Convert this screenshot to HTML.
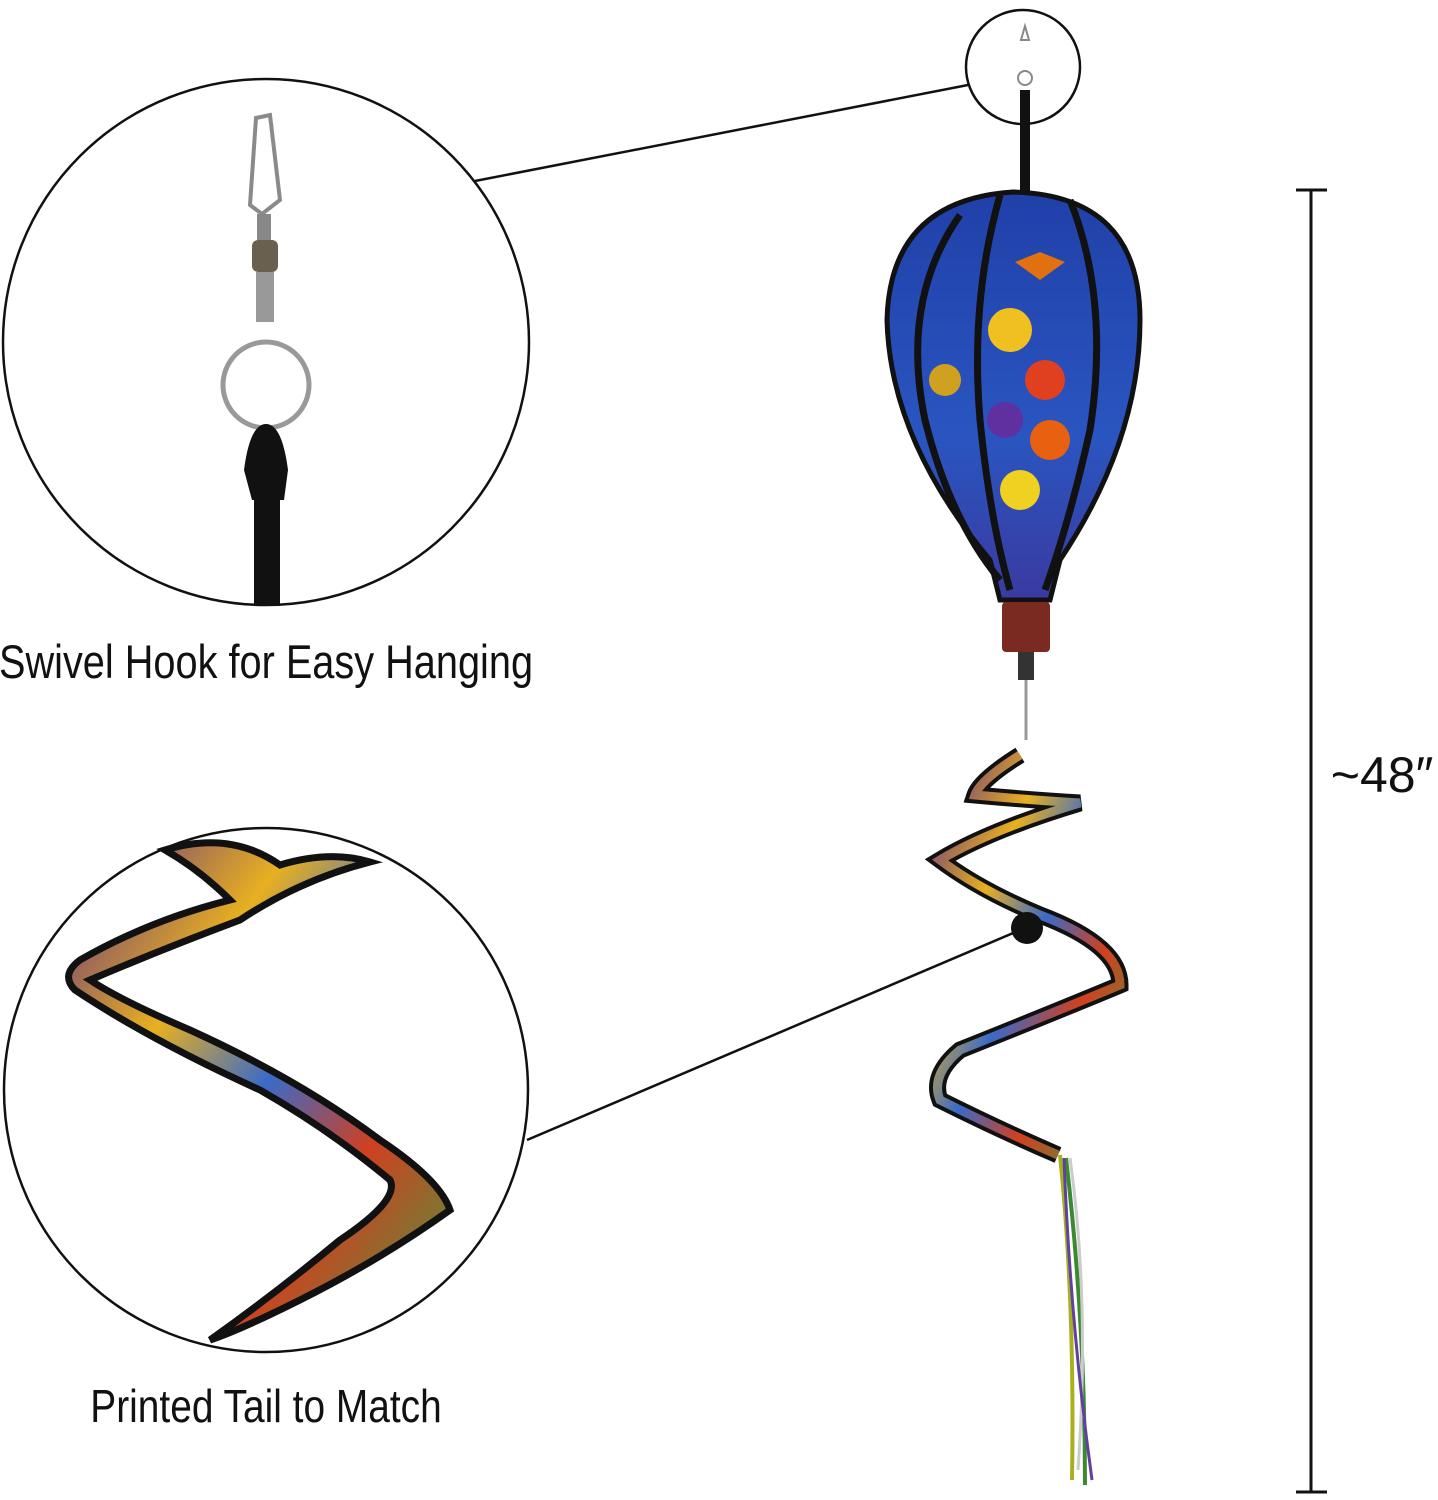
<!DOCTYPE html>
<html><head><meta charset="utf-8"><style>
html,body{margin:0;padding:0;background:#fff;}
svg{display:block;}
</style></head><body>
<svg width="1438" height="1500" viewBox="0 0 1438 1500" xmlns="http://www.w3.org/2000/svg">
<defs>
<linearGradient id="band" x1="0" y1="0" x2="1" y2="1">
<stop offset="0" stop-color="#5a2a8a"/><stop offset="0.3" stop-color="#e8b020"/><stop offset="0.5" stop-color="#3a6ac8"/><stop offset="0.7" stop-color="#d04020"/><stop offset="1" stop-color="#40a040"/>
</linearGradient>
<linearGradient id="blue" x1="0" y1="0" x2="0" y2="1">
<stop offset="0" stop-color="#2040a8"/><stop offset="0.6" stop-color="#2a55c0"/><stop offset="1" stop-color="#3a3aa0"/>
</linearGradient>
</defs>
<circle cx="266" cy="342" r="263" fill="#fff" stroke="#111" stroke-width="2.5"/>
<line x1="475" y1="181" x2="968" y2="85" stroke="#111" stroke-width="2.5"/>
<circle cx="1023" cy="67" r="57" fill="#fff" stroke="#111" stroke-width="2.5"/>
<path d="M256 118 L270 115 L280 200 L262 214 L250 205 Z" fill="none" stroke="#8a8a8a" stroke-width="4"/>
<rect x="257" y="214" width="14" height="26" fill="#888"/>
<rect x="252" y="240" width="26" height="32" rx="6" fill="#6a6050"/>
<rect x="256" y="272" width="18" height="50" fill="#999"/>
<circle cx="266" cy="385" r="43" fill="none" stroke="#999" stroke-width="5"/>
<path d="M244 470 Q250 424 266 424 Q282 424 288 470 L284 500 L252 500 Z" fill="#111"/>
<rect x="254" y="495" width="26" height="110" fill="#111"/>
<text transform="translate(266,678) scale(0.845,1)" text-anchor="middle" font-family="Liberation Sans, sans-serif" font-size="47" fill="#111">Swivel Hook for Easy Hanging</text>
<circle cx="266" cy="1090" r="262" fill="#fff" stroke="#111" stroke-width="2.5"/>
<path d="M165 850 Q230 830 280 865 Q330 850 370 862 Q300 880 240 920 Q160 950 90 980 Q120 1000 190 1030 Q300 1080 380 1140 Q440 1180 450 1210 Q380 1260 300 1300 Q240 1330 210 1340 Q280 1290 340 1240 Q400 1200 390 1180 Q330 1130 260 1090 Q150 1040 75 990 Q60 975 80 960 Q150 920 230 900 Q200 870 165 850 Z" fill="url(#band)" stroke="#111" stroke-width="7"/>
<line x1="527" y1="1140" x2="1025" y2="928" stroke="#111" stroke-width="2.5"/>
<text transform="translate(266,1422) scale(0.845,1)" text-anchor="middle" font-family="Liberation Sans, sans-serif" font-size="46" fill="#111">Printed Tail to Match</text>
<rect x="1020" y="90" width="10" height="108" fill="#111"/>
<path d="M1021 40 l4 -14 l4 14 z" fill="none" stroke="#888" stroke-width="2"/>
<circle cx="1025" cy="78" r="7" fill="none" stroke="#888" stroke-width="2"/>
<path d="M1013 192 Q1140 195 1140 320 Q1140 440 1060 560 L1050 600 L1000 600 L990 560 Q890 440 887 320 Q890 200 1013 192 Z" fill="url(#blue)" stroke="#111" stroke-width="5"/>
<path d="M960 215 Q900 300 925 420 Q950 520 1000 580" fill="none" stroke="#111" stroke-width="7"/>
<path d="M1000 195 Q970 300 980 420 Q990 520 1010 590" fill="none" stroke="#111" stroke-width="7"/>
<path d="M1070 200 Q1110 300 1090 430 Q1070 520 1045 590" fill="none" stroke="#111" stroke-width="7"/>
<circle cx="1010" cy="330" r="22" fill="#f0c020"/><circle cx="1045" cy="380" r="20" fill="#e04020"/>
<circle cx="1005" cy="420" r="18" fill="#6030a0"/><circle cx="1050" cy="440" r="20" fill="#e86010"/>
<circle cx="1020" cy="490" r="20" fill="#f0d020"/><circle cx="945" cy="380" r="16" fill="#d0a020"/>
<path d="M1015 262 l25 -10 l25 10 l-25 18 z" fill="#e07010"/>
<rect x="1002" y="602" width="48" height="50" rx="4" fill="#7a2a20"/>
<rect x="1018" y="652" width="16" height="28" fill="#333"/>
<line x1="1026" y1="680" x2="1026" y2="740" stroke="#999" stroke-width="3"/>
<path d="M1020 755 Q980 780 975 795 Q1030 800 1080 803 Q990 830 940 860 Q980 890 1040 915 Q1120 945 1120 985 Q1060 1010 960 1050 Q930 1075 940 1100 Q1000 1130 1058 1155" fill="none" stroke="#111" stroke-width="17"/>
<path d="M1020 755 Q980 780 975 795 Q1030 800 1080 803 Q990 830 940 860 Q980 890 1040 915 Q1120 945 1120 985 Q1060 1010 960 1050 Q930 1075 940 1100 Q1000 1130 1058 1155" fill="none" stroke="url(#band)" stroke-width="9"/>
<circle cx="1027" cy="928" r="16" fill="#111"/>
<path d="M1060 1155 Q1075 1300 1072 1480" fill="none" stroke="#a8b020" stroke-width="4"/>
<path d="M1066 1158 Q1085 1320 1085 1485" fill="none" stroke="#3a8a30" stroke-width="4"/>
<path d="M1070 1158 Q1090 1300 1078 1470" fill="none" stroke="#ccc" stroke-width="3"/>
<path d="M1064 1158 Q1070 1320 1092 1480" fill="none" stroke="#6040a0" stroke-width="3"/>
<line x1="1311" y1="190" x2="1311" y2="1492" stroke="#111" stroke-width="3"/>
<line x1="1296" y1="190" x2="1327" y2="190" stroke="#111" stroke-width="3"/>
<line x1="1296" y1="1492" x2="1327" y2="1492" stroke="#111" stroke-width="3"/>
<text transform="translate(1382,792) scale(1,1)" text-anchor="middle" font-family="Liberation Sans, sans-serif" font-size="50" fill="#111">~48″</text>
</svg>
</body></html>
